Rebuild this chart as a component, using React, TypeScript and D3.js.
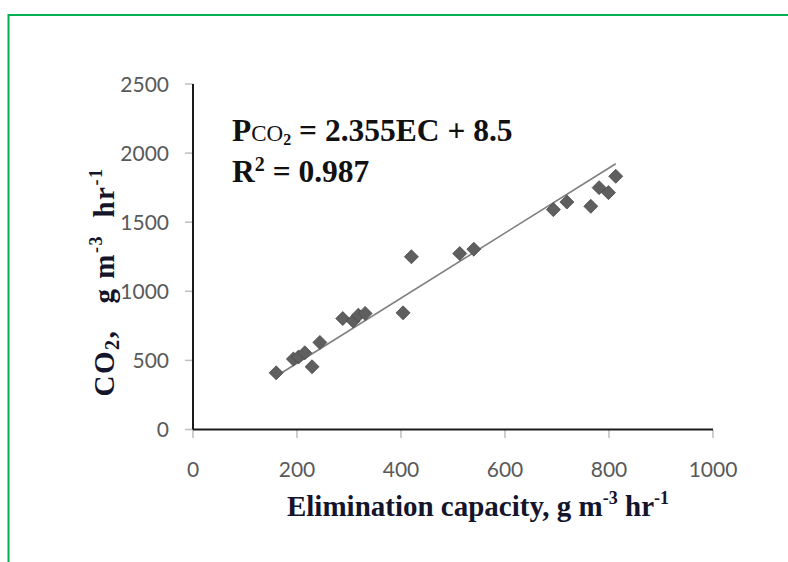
import React from "react";
import * as d3 from "d3";

const ecValues = [160, 193, 203, 215, 229, 244, 288, 308, 318, 331, 404, 420, 513, 540, 693, 719, 765, 781, 799, 813];
const co2Values = [410, 510, 525, 555, 454, 630, 803, 785, 827, 840, 844, 1250, 1273, 1305, 1591, 1646, 1615, 1750, 1714, 1832];
const xTicks = [0, 200, 400, 600, 800, 1000];
const yTicks = [0, 500, 1000, 1500, 2000, 2500];
const slope = 2.355;
const intercept = 8.5;
const r2Text = "0.987";

export default function App() {
  const x = d3.scaleLinear().domain([0, 1000]).range([193, 713]);
  const y = d3.scaleLinear().domain([0, 2500]).range([429.5, 84]);
  const xMin = d3.min(ecValues) as number;
  const xMax = d3.max(ecValues) as number;
  const line = d3.line<number>().x((d) => x(d)).y((d) => y(slope * d + intercept));
  const diamond = d3.symbol().type(d3.symbolDiamond2).size(125)();
  const tickFont = "Lato, 'Open Sans', sans-serif";
  const serif = "'Liberation Serif', 'Times New Roman', serif";
  return (
    <svg width={788} height={562} style={{ position: "absolute", left: 0, top: 0, background: "#fff" }}>
      <rect x={0} y={0} width={788} height={562} fill="#fff" />
      <path d="M8.5,600 V15 H800" fill="none" stroke="#00b050" strokeWidth={2} />
      {yTicks.map((t) => (
        <g key={"y" + t}>
          <line x1={185} x2={193} y1={y(t)} y2={y(t)} stroke="#bfbfbf" strokeWidth={1.5} />
          <text x={169} y={y(t)} dy="0.36em" textAnchor="end" fontFamily={tickFont} fontSize={21} fill="#595959">
            {t}
          </text>
        </g>
      ))}
      {xTicks.map((t) => (
        <g key={"x" + t}>
          <line x1={x(t)} x2={x(t)} y1={430} y2={438} stroke="#bfbfbf" strokeWidth={1.5} />
          <text x={x(t)} y={477} textAnchor="middle" fontFamily={tickFont} fontSize={21} fill="#595959">
            {t}
          </text>
        </g>
      ))}
      <line x1={193} x2={193} y1={y(2500)} y2={y(0)} stroke="#1a1a1a" strokeWidth={2} />
      <line x1={193} x2={713} y1={y(0)} y2={y(0)} stroke="#1a1a1a" strokeWidth={2} />
      <path d={line([xMin, xMax]) || ""} fill="none" stroke="#7f7f7f" strokeWidth={1.6} />
      {ecValues.map((v, i) => (
        <path
          key={i}
          d={diamond || ""}
          transform={`translate(${x(v)},${y(co2Values[i])})`}
          fill="#5f5f5f"
          stroke="#4a4a4a"
          strokeWidth={0.8}
        />
      ))}
      <text x={232} y={141} fontFamily={serif} fontWeight="bold" fontSize={31.5} fill="#111">
        <tspan>P</tspan>
        <tspan fontSize={23} fontWeight="normal">CO</tspan>
        <tspan fontSize={16} dy={4}>2</tspan>
        <tspan dy={-4}>{` = ${slope}EC + ${intercept}`}</tspan>
      </text>
      <text x={232} y={182} fontFamily={serif} fontWeight="bold" fontSize={31.5} fill="#111">
        <tspan>R</tspan>
        <tspan fontSize={20} dy={-11}>2</tspan>
        <tspan dy={11}>{` = ${r2Text}`}</tspan>
      </text>
      <text x={478} y={516} textAnchor="middle" fontFamily={serif} fontWeight="bold" fontSize={29} fill="#14142a">
        <tspan>Elimination capacity, g m</tspan>
        <tspan fontSize={18} dy={-12}>-3</tspan>
        <tspan dy={12}> hr</tspan>
        <tspan fontSize={18} dy={-12}>-1</tspan>
      </text>
      <text
        transform="translate(114,282) rotate(-90)"
        textAnchor="middle"
        fontFamily={serif}
        fontWeight="bold"
        fontSize={29}
        fill="#14142a"
        style={{ whiteSpace: "pre" }}
        letterSpacing={1.5}
      >
        <tspan>CO</tspan>
        <tspan fontSize={20} dy={5}>2</tspan>
        <tspan dy={-5}>{",   g m"}</tspan>
        <tspan fontSize={18} dy={-12}>-3</tspan>
        <tspan dy={12}>{"  hr"}</tspan>
        <tspan fontSize={18} dy={-12}>-1</tspan>
      </text>
    </svg>
  );
}
